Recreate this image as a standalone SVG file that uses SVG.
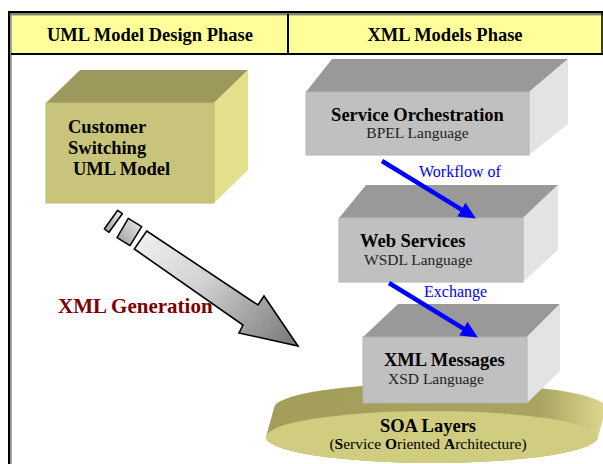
<svg xmlns="http://www.w3.org/2000/svg" width="603" height="464" viewBox="0 0 603 464">
<defs>
<style>
.t{font-family:"Liberation Serif","Times New Roman",serif;fill:#000}
.b{font-weight:bold}
.hd{font-size:18.5px;font-weight:bold}
.bx{font-size:18.5px;font-weight:bold}
.sub{font-size:15.5px;fill:#222}
.bl{font-size:16px;fill:#0000FF}
.gtop{fill:#999999}
.gright{fill:#E3E3E3}
.gfront{fill:#C0C0C0;stroke:#B4B4B4;stroke-width:1}
.conn{stroke:#0000FF;stroke-width:4.5;fill:none}
</style>
<marker id="ah" markerUnits="userSpaceOnUse" markerWidth="18" markerHeight="16" refX="4" refY="8" orient="auto" viewBox="0 0 18 16">
<path d="M0,0 L17,8 L0,16 z" fill="#0000FF"/>
</marker>
<linearGradient id="ga" gradientUnits="userSpaceOnUse" x1="140" y1="225" x2="285" y2="345">
<stop offset="0" stop-color="#f2f2f2"/>
<stop offset="0.45" stop-color="#d2d2d2"/>
<stop offset="1" stop-color="#7e7e7e"/>
</linearGradient>
<linearGradient id="gs" gradientUnits="objectBoundingBox" x1="1" y1="0" x2="0" y2="1">
<stop offset="0" stop-color="#eeeeee"/>
<stop offset="1" stop-color="#9a9a9a"/>
</linearGradient>
<linearGradient id="disc" x1="0" y1="0" x2="1" y2="0">
<stop offset="0" stop-color="#A29E5A"/>
<stop offset="0.8" stop-color="#A8A460"/>
<stop offset="1" stop-color="#DCD890"/>
</linearGradient>
</defs>

<rect width="603" height="464" fill="#ffffff"/>

<g id="frame">
<rect x="11" y="14" width="592" height="40" fill="#FFFF99"/>
<line x1="8" y1="12.2" x2="603" y2="12.2" stroke="#000" stroke-width="2.4"/>
<line x1="11" y1="14.8" x2="603" y2="14.8" stroke="#555" stroke-width="1"/>
<line x1="9.2" y1="11" x2="9.2" y2="464" stroke="#000" stroke-width="2.4"/>
<line x1="11.2" y1="14" x2="11.2" y2="464" stroke="#888" stroke-width="1"/>
<line x1="11" y1="54" x2="603" y2="54" stroke="#000" stroke-width="2"/>
<line x1="288" y1="14" x2="288" y2="54" stroke="#000" stroke-width="2"/>
<line x1="602" y1="12" x2="602" y2="54" stroke="#000" stroke-width="1.5"/>
<text class="t hd" x="150" y="41" text-anchor="middle">UML Model Design Phase</text>
<text class="t hd" x="445" y="41" text-anchor="middle">XML Models Phase</text>
</g>

<g id="soa">
<path d="M266,437 L274,408 A166 25 0 0 1 606,408 L598,437 A166 26 0 0 1 266,437 Z" fill="url(#disc)"/>
<ellipse cx="432" cy="437" rx="166" ry="26" fill="#D0CC80"/>
<text class="t b" x="428" y="432" text-anchor="middle" font-size="18.5">SOA Layers</text>
<text class="t" x="428" y="449" text-anchor="middle" font-size="15.5">(<tspan font-weight="bold">S</tspan>ervice <tspan font-weight="bold">O</tspan>riented <tspan font-weight="bold">A</tspan>rchitecture)</text>
</g>

<g id="customer">
<polygon points="46,103 80,70 248,70 214,103" fill="#9C995C"/>
<polygon points="214,103 248,70 248,170 214,203" fill="#E3E08C"/>
<rect x="46" y="103" width="168" height="100" fill="#C8C47B" stroke="#BDB970" stroke-width="1"/>
<text class="t bx" x="68" y="133">Customer</text>
<text class="t bx" x="68" y="154">Switching</text>
<text class="t bx" x="73" y="175">UML Model</text>
</g>

<g id="orchestration">
<polygon class="gtop" points="306,92 332,59 568,59 529,92"/>
<polygon class="gright" points="529,92 568,59 568,124 529,155"/>
<rect class="gfront" x="306" y="92" width="223" height="63"/>
<text class="t bx" x="417.5" y="121" text-anchor="middle">Service Orchestration</text>
<text class="t sub" x="417.5" y="138" text-anchor="middle">BPEL Language</text>
</g>

<g id="webservices">
<polygon class="gtop" points="339,218 366,185 558,185 523,218"/>
<polygon class="gright" points="523,218 558,185 558,250 523,282"/>
<rect class="gfront" x="339" y="218" width="184" height="64"/>
<text class="t bx" x="360" y="247">Web Services</text>
<text class="t sub" x="364" y="265">WSDL Language</text>
</g>

<g id="xmlmessages">
<polygon class="gtop" points="363,337 398,304 560,304 527,337"/>
<polygon class="gright" points="527,337 560,304 560,371 527,403"/>
<rect class="gfront" x="363" y="337" width="164" height="66"/>
<text class="t bx" x="384" y="366">XML Messages</text>
<text class="t sub" x="388" y="384">XSD Language</text>
</g>

<g id="xmlgen">
<polygon points="117.7,210.3 122.3,213.7 109,232.3 104.3,229" fill="url(#gs)" stroke="#000" stroke-width="1.5" stroke-linejoin="round"/>
<polygon points="128.3,218.3 141.7,226.7 130,245.7 117,237.7" fill="url(#gs)" stroke="#000" stroke-width="1.5" stroke-linejoin="round"/>
<polygon points="146.7,231 258,305 264,296 298,346 239,333 243,325 134.3,249" fill="url(#ga)" stroke="#000" stroke-width="1.6" stroke-linejoin="miter"/>
<text class="t b" x="58" y="313" font-size="21" fill="#800000" style="fill:#800000">XML Generation</text>
</g>

<g id="connectors">
<line class="conn" x1="382" y1="161" x2="464.8" y2="211.7" marker-end="url(#ah)"/>
<line class="conn" x1="389" y1="283" x2="466.8" y2="330.7" marker-end="url(#ah)"/>
<text class="t bl" x="419" y="177">Workflow of</text>
<text class="t bl" x="424" y="297">Exchange</text>
</g>
</svg>
